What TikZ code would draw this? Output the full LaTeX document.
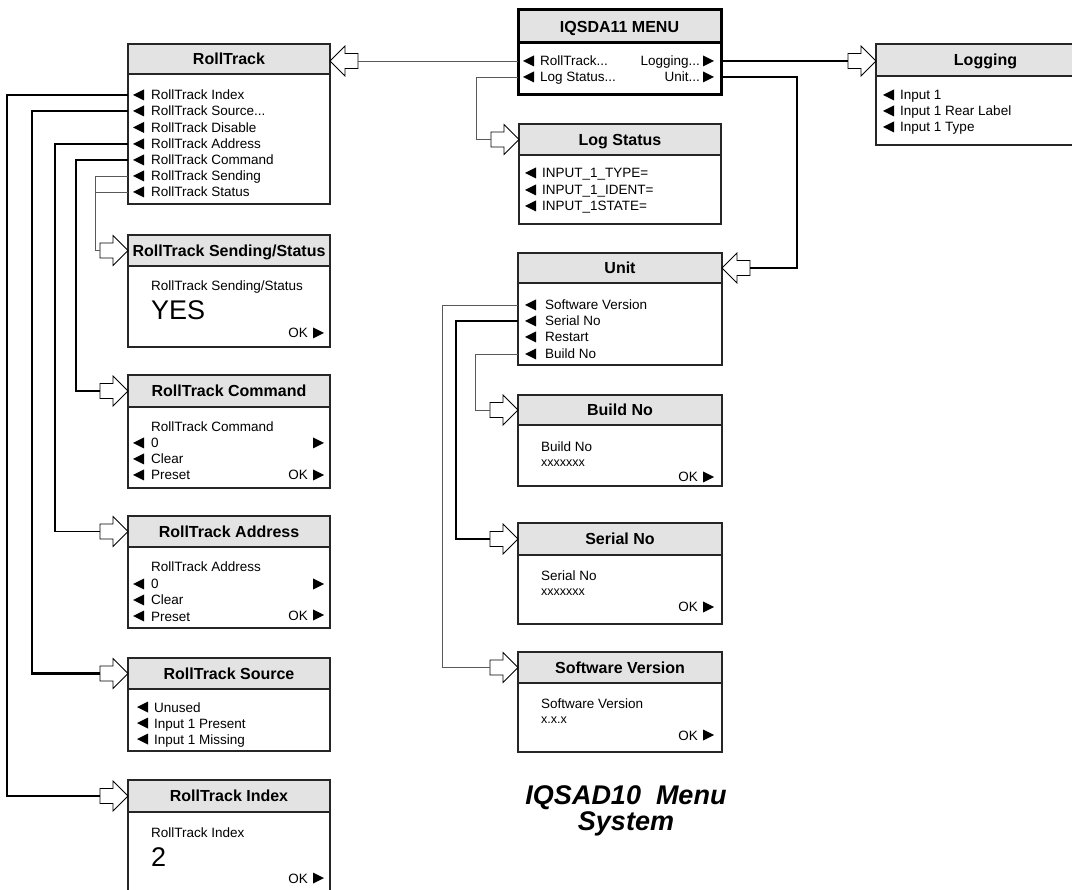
\documentclass[tikz,border=0pt]{standalone}
\usepackage{fontspec}
\setmainfont{Liberation Sans}
\begin{document}
\begin{tikzpicture}[x=1pt,y=-1pt,
  panelbody/.style={draw=black!85, line width=1.3pt, fill=white, inner sep=0pt, outer sep=0pt},
  paneltitle/.style={draw=black!85, line width=1.3pt, fill=black!11, inner sep=0pt, outer sep=0pt,
    text height=11.5pt, text depth=0pt, font=\fontsize{16}{19}\selectfont\bfseries},
  body/.style={inner sep=0pt, font=\fontsize{13.5}{16}\selectfont},
  smallbody/.style={inner sep=0pt, font=\fontsize{12.5}{15}\selectfont},
  bigbody/.style={inner sep=0pt, font=\fontsize{27}{30}\selectfont},
  caption/.style={inner sep=0pt, font=\fontsize{27}{27}\selectfont\bfseries\itshape},
  blockarrow/.style={draw=black, line width=0.8pt, fill=white, line join=miter},
  linkthin/.style={draw=black!65, line width=0.9pt},
  linkmed/.style={draw=black, line width=1.6pt},
  linkheavy/.style={draw=black, line width=2.6pt},
]
% panel: [extra style]{id}{x1}{y1}{x2}{title bottom}{y2}{title}
\newcommand\panel[8][]{%
  \node[panelbody,#1,anchor=north west,minimum width={#5-#3},minimum height={#7-#4}] (#2) at (#3,#4) {};
  \node[paneltitle,#1,anchor=north west,minimum width={#5-#3},minimum height={#6-#4}] (#2-title) at (#3,#4) {#8};}
% small filled pointers
\newcommand\ltri[2]{\fill (#1,#2) -- ++(11,-5.5) -- ++(0,11) -- cycle;}
\newcommand\rtri[2]{\fill (#1,{#2-5.5}) -- ++(11,5.5) -- ++(-11,5.5) -- cycle;}
% menu rows: {id}{pointer x}{text x}{y}{text}
\newcommand\lrow[5]{\ltri{#2}{#4}\node[body,anchor=base west] (#1) at (#3,{#4+5}) {#5};}
\newcommand\rrow[5]{\rtri{#3}{#4}\node[body,anchor=base east] (#1) at (#2,{#4+5}) {#5};}
% outlined block arrows: {id of tail}{tip x}{y}
\newcommand\arrowR[3]{%
  \draw[blockarrow] (#2,#3) -- ++(-15,-15) -- ++(0,7.5) -- ++(-13,0) -- ++(0,15) -- ++(13,0) -- ++(0,7.5) -- cycle;
  \coordinate (#1) at ({#2-28},#3);}
\newcommand\arrowL[3]{%
  \draw[blockarrow] (#2,#3) -- ++(15,-15) -- ++(0,7.5) -- ++(13,0) -- ++(0,15) -- ++(-13,0) -- ++(0,7.5) -- cycle;
  \coordinate (#1) at ({#2+28},#3);}

\useasboundingbox (0,0) rectangle (1072,890);
\clip (0,0) rectangle (1072,890);

% ---------------- panels ----------------
\panel[line width=3pt,draw=black]{menu}{518}{10}{721}{43}{95}{IQSDA11 MENU}
\panel{rt}{128}{44}{330}{74}{204}{RollTrack}
\panel{ls}{519}{124}{721}{155}{224}{Log Status}
\panel{log}{876}{44}{1095}{76}{145}{Logging}
\panel{unit}{518}{253}{722}{283}{365}{Unit}
\panel{bn}{518}{395}{722}{425}{486}{Build No}
\panel{sn}{518}{523}{722}{555}{624}{Serial No}
\panel{sw}{518}{652}{722}{683}{752}{Software Version}
\panel{ss}{128}{235}{330}{266}{347}{RollTrack Sending/Status}
\panel{cmd}{128}{375}{330}{407}{488}{RollTrack Command}
\panel{adr}{128}{516}{330}{547}{628}{RollTrack Address}
\panel{src}{128}{658}{330}{689}{751}{RollTrack Source}
\panel{idx}{128}{780}{330}{812}{910}{RollTrack Index}

% main menu
\lrow{menu-i1}{523}{540}{61}{RollTrack...}
\lrow{menu-i2}{523}{540}{77}{Log Status...}
\rrow{menu-i3}{700}{703}{61}{Logging...}
\rrow{menu-i4}{700}{703}{77}{Unit...}

% RollTrack list
\lrow{rt-i1}{133}{151}{95}{RollTrack Index}
\lrow{rt-i2}{133}{151}{111}{RollTrack Source...}
\lrow{rt-i3}{133}{151}{127.5}{RollTrack Disable}
\lrow{rt-i4}{133}{151}{144}{RollTrack Address}
\lrow{rt-i5}{133}{151}{160}{RollTrack Command}
\lrow{rt-i6}{133}{151}{176}{RollTrack Sending}
\lrow{rt-i7}{133}{151}{192}{RollTrack Status}

% Log Status list
\lrow{ls-i1}{525}{542}{173}{INPUT\_1\_TYPE=}
\lrow{ls-i2}{525}{542}{190}{INPUT\_1\_IDENT=}
\lrow{ls-i3}{525}{542}{206}{INPUT\_1STATE=}

% Logging list
\lrow{log-i1}{883}{900}{95}{Input 1}
\lrow{log-i2}{883}{900}{111}{Input 1 Rear Label}
\lrow{log-i3}{883}{900}{127}{Input 1 Type}

% Unit list
\lrow{unit-i1}{525}{545}{305}{Software Version}
\lrow{unit-i2}{525}{545}{321}{Serial No}
\lrow{unit-i3}{525}{545}{337}{Restart}
\lrow{unit-i4}{525}{545}{354}{Build No}

% Build No
\node[body,anchor=base west] (bn-l1) at (541,452) {Build No};
\node[smallbody,anchor=base west] (bn-l2) at (541,467) {xxxxxxx};
\rrow{bn-ok}{698}{703}{477}{OK}

% Serial No
\node[body,anchor=base west] (sn-l1) at (541,580) {Serial No};
\node[smallbody,anchor=base west] (sn-l2) at (541,596) {xxxxxxx};
\rrow{sn-ok}{698}{703}{607}{OK}

% Software Version
\node[body,anchor=base west] (sw-l1) at (541,708) {Software Version};
\node[smallbody,anchor=base west] (sw-l2) at (541,723) {x.x.x};
\rrow{sw-ok}{698}{703}{735}{OK}

% RollTrack Sending/Status
\node[body,anchor=base west] (ss-l1) at (151,291) {RollTrack Sending/Status};
\node[bigbody,anchor=base west] (ss-l2) at (151,319.5) {YES};
\rrow{ss-ok}{308}{313}{333}{OK}

% RollTrack Command
\node[body,anchor=base west] (cmd-l1) at (151,432) {RollTrack Command};
\lrow{cmd-i1}{133}{151}{443}{0}
\rtri{313}{443}
\lrow{cmd-i2}{133}{151}{459}{Clear}
\lrow{cmd-i3}{133}{151}{475}{Preset}
\rrow{cmd-ok}{308}{313}{475}{OK}

% RollTrack Address
\node[body,anchor=base west] (adr-l1) at (151,572) {RollTrack Address};
\lrow{adr-i1}{133}{151}{584}{0}
\rtri{313}{584}
\lrow{adr-i2}{133}{151}{600}{Clear}
\lrow{adr-i3}{133}{151}{616}{Preset}
\rrow{adr-ok}{308}{313}{615}{OK}

% RollTrack Source
\lrow{src-i1}{137}{154}{707}{Unused}
\lrow{src-i2}{137}{154}{723}{Input 1 Present}
\lrow{src-i3}{137}{154}{739}{Input 1 Missing}

% RollTrack Index
\node[body,anchor=base west] (idx-l1) at (151,837) {RollTrack Index};
\node[bigbody,anchor=base west] (idx-l2) at (151,866) {2};
\rrow{idx-ok}{308}{313}{878}{OK}

% ---------------- ports on panel edges ----------------
\coordinate (p-menu-1) at (518,61);
\coordinate (p-menu-2) at (518,77);
\coordinate (p-menu-3) at (721,61);
\coordinate (p-menu-4) at (721,77);
\coordinate (p-rt-1) at (128,95);
\coordinate (p-rt-2) at (128,111);
\coordinate (p-rt-4) at (128,144);
\coordinate (p-rt-5) at (128,160);
\coordinate (p-rt-6) at (128,176);
\coordinate (p-rt-7) at (128,192);
\coordinate (p-unit-1) at (518,305);
\coordinate (p-unit-2) at (518,321);
\coordinate (p-unit-4) at (518,354);

% ---------------- arrows ----------------
\arrowL{a-rt}{330}{61}
\arrowR{a-ls}{519}{139.5}
\arrowR{a-log}{876}{61}
\arrowL{a-unit}{722}{268}
\arrowR{a-sw}{518}{667.5}
\arrowR{a-sn}{518}{539}
\arrowR{a-bn}{518}{410}
\arrowR{a-idx}{128}{796}
\arrowR{a-src}{128}{673.5}
\arrowR{a-adr}{128}{531.5}
\arrowR{a-cmd}{128}{391}
\arrowR{a-ss}{128}{250.5}

% ---------------- connectors ----------------
\draw[linkthin] (p-menu-1) -- (a-rt);
\draw[linkthin] (p-menu-2) -- ++(-42,0) |- (a-ls);
\draw[linkmed] (p-menu-3) -- (a-log);
\draw[linkmed] (p-menu-4) -- ++(76,0) |- (a-unit);

\draw[linkthin] (p-unit-1) -- ++(-76,0) |- (a-sw);
\draw[linkmed] (p-unit-2) -- ++(-62,0) |- (a-sn);
\draw[linkthin] (p-unit-4) -- ++(-43,0) |- (a-bn);

\draw[linkmed] (p-rt-1) -- ++(-121,0) |- (a-idx);
\draw[linkheavy] (p-rt-2) -- ++(-96,0) |- (a-src);
\draw[linkmed] (p-rt-4) -- ++(-73,0) |- (a-adr);
\draw[linkheavy] (p-rt-5) -- ++(-52,0) |- (a-cmd);
\draw[linkthin] (p-rt-6) -- ++(-33,0) |- (a-ss);
\draw[linkthin] (p-rt-7) -- ++(-33,0);

% ---------------- caption ----------------
\node[caption,anchor=base] (cap1) at (626,804) {IQSAD10\ \ Menu};
\node[caption,anchor=base] (cap2) at (626,830) {System};
\end{tikzpicture}
\end{document}
